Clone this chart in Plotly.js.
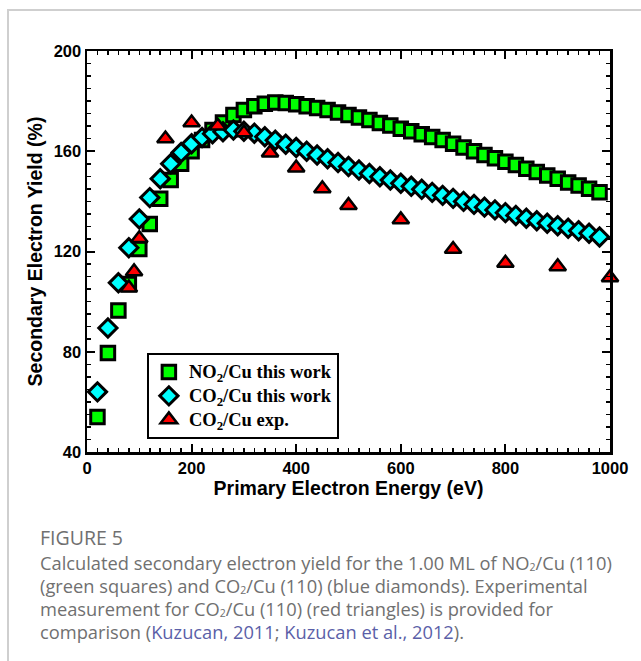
<!DOCTYPE html>
<html>
<head>
<meta charset="utf-8">
<script src="https://cdn.plot.ly/plotly-3.0.1.min.js"></script>
<style>
  html, body { margin: 0; padding: 0; width: 641px; height: 661px; overflow: hidden; background: #ffffff; }
  #frame { position: absolute; left: 7px; top: 9px; width: 700px; height: 700px;
           border-left: 2px solid #cfcfcf; border-top: 2px solid #cfcfcf; box-sizing: border-box; }
  #chart { position: absolute; left: 0; top: 0; width: 641px; height: 661px; }
  #caption { position: absolute; left: 40px; top: 526px; font-family: "Open Sans", "Noto Sans", sans-serif;
             color: #707070; font-size: 18.3px; line-height: 23px; white-space: nowrap; }
  #caption .fig { font-size: 19.5px; font-weight: 500; margin-bottom: 2px; }
  #caption sub { font-size: 10.5px; vertical-align: -1px; line-height: 0; }
  #caption .ref { color: #5b5fa8; }
</style>
</head>
<body>
<div id="frame"></div>
<div id="chart"></div>
<div id="caption">
  <div class="fig">FIGURE 5</div>
  <div>Calculated secondary electron yield for the 1.00 ML of NO<sub>2</sub>/Cu (110)</div>
  <div>(green squares) and CO<sub>2</sub>/Cu (110) (blue diamonds). Experimental</div>
  <div>measurement for CO<sub>2</sub>/Cu (110) (red triangles) is provided for</div>
  <div>comparison (<span class="ref">Kuzucan, 2011</span>; <span class="ref">Kuzucan et al., 2012</span>).</div>
</div>
<script>
// Calculated curves: primary electron energy (eV)
const energyCalc = [20, 40, 60, 80, 100, 120, 140, 160, 180, 200,
                    220, 240, 260, 280, 300, 320, 340, 360, 380, 400,
                    420, 440, 460, 480, 500, 520, 540, 560, 580, 600,
                    620, 640, 660, 680, 700, 720, 740, 760, 780, 800,
                    820, 840, 860, 880, 900, 920, 940, 960, 980];
// NO2/Cu this work (%)
const no2Yield = [54, 79.5, 96.5, 107, 121, 131, 141, 148.5, 155, 160,
                  164.5, 168.5, 171.5, 174.5, 176.5, 178, 179, 179.5, 179.3, 178.8,
                  178, 177.3, 176.5, 175.5, 174.5, 173.5, 172.5, 171.3, 170.3, 169,
                  168, 166.8, 165.7, 164.5, 163, 161.5, 160, 158.5, 157.2, 155.8,
                  154.5, 153, 151.7, 150.3, 149, 147.5, 146.3, 145, 143.6];
// CO2/Cu this work (%)
const co2Yield = [64, 89.5, 107.5, 121.5, 133, 141.5, 149, 155, 159.5, 163,
                  165.5, 167, 167.8, 168.5, 168, 167.2, 165.8, 164.4, 162.8, 161.5,
                  160, 158.5, 157, 155.5, 153.9, 152.5, 151.1, 149.8, 148.5, 147.2,
                  146, 144.8, 143.6, 142.4, 141.2, 140, 138.8, 137.7, 136.6, 135.5,
                  134.4, 133.3, 132.3, 131.3, 130.3, 129.3, 128.3, 127.3, 125.8];
// CO2/Cu experiment
const energyExp = [80, 90, 100, 150, 200, 250, 300, 350, 400, 450, 500, 600, 700, 800, 900, 1000];
const co2ExpYield = [105.5, 112, 125.2, 165, 171.4, 170.1, 167.4, 159.4, 153.4, 145.1, 138.4, 132.7, 120.9, 115.4, 114, 109.6];

const seriesNames = ["NO<sub>2</sub>/Cu this work", "CO<sub>2</sub>/Cu this work", "CO<sub>2</sub>/Cu exp."];
const xTitle = "Primary Electron Energy (eV)";
const yTitle = "Secondary Electron Yield (%)";

function legendLabel(s) { return '<span style="font-size:18.5px">' + s + '</span>'; }

const traces = [
  { x: energyCalc, y: no2Yield, name: legendLabel(seriesNames[0]), type: "scatter", mode: "markers", cliponaxis: false,
    marker: { symbol: "square", size: 13.5, color: "#00ff00", line: { color: "#000000", width: 3 } } },
  { x: energyCalc, y: co2Yield, name: legendLabel(seriesNames[1]), type: "scatter", mode: "markers", cliponaxis: false,
    marker: { symbol: "diamond", size: 14, color: "#00ffff", line: { color: "#000000", width: 3 } } },
  { x: energyExp, y: co2ExpYield, name: legendLabel(seriesNames[2]), type: "scatter", mode: "markers", cliponaxis: false,
    marker: { symbol: "triangle-up", size: 14.5, color: "#ff0000", line: { color: "#000000", width: 2.5 } } }
];

const tickFont = { family: "Liberation Sans, Arial, sans-serif", size: 16.5, color: "#000000", weight: "bold" };
const titleFont = { family: "Liberation Sans, Arial, sans-serif", size: 19.5, color: "#000000", weight: "bold" };

const layout = {
  width: 641, height: 661,
  margin: { l: 87, r: 31, t: 50.5, b: 208.5, pad: 0 },
  paper_bgcolor: "rgba(0,0,0,0)",
  plot_bgcolor: "rgba(0,0,0,0)",
  showlegend: true,
  legend: {
    x: 0.1145, y: 0.2465, xanchor: "left", yanchor: "top",
    bgcolor: "#ffffff", bordercolor: "#000000", borderwidth: 2,
    font: { family: "Liberation Serif, Times New Roman, serif", size: 16, color: "#000000", weight: "bold" },
    itemwidth: 30, tracegroupgap: 0
  },
  xaxis: {
    range: [0, 1000], autorange: false, fixedrange: true,
    tickmode: "linear", tick0: 0, dtick: 200,
    ticks: "inside", ticklen: 8, tickwidth: 2, tickcolor: "#000000",
    minor: { dtick: 20, ticks: "inside", ticklen: 4, tickwidth: 1.5, tickcolor: "#000000" },
    showline: true, linecolor: "#000000", linewidth: 2.5, mirror: "allticks",
    showgrid: false, zeroline: false,
    tickfont: tickFont,
    title: { text: xTitle, font: titleFont, standoff: 3 }
  },
  yaxis: {
    range: [40, 200], autorange: false, fixedrange: true,
    tickmode: "linear", tick0: 40, dtick: 40,
    ticks: "inside", ticklen: 8, tickwidth: 2, tickcolor: "#000000",
    minor: { dtick: 5, ticks: "inside", ticklen: 4, tickwidth: 1.5, tickcolor: "#000000" },
    showline: true, linecolor: "#000000", linewidth: 2.5, mirror: "allticks",
    showgrid: false, zeroline: false,
    tickfont: tickFont,
    title: { text: yTitle, font: titleFont, standoff: 6 }
  }
};

Plotly.newPlot("chart", traces, layout, { staticPlot: true, displayModeBar: false });
</script>
</body>
</html>
